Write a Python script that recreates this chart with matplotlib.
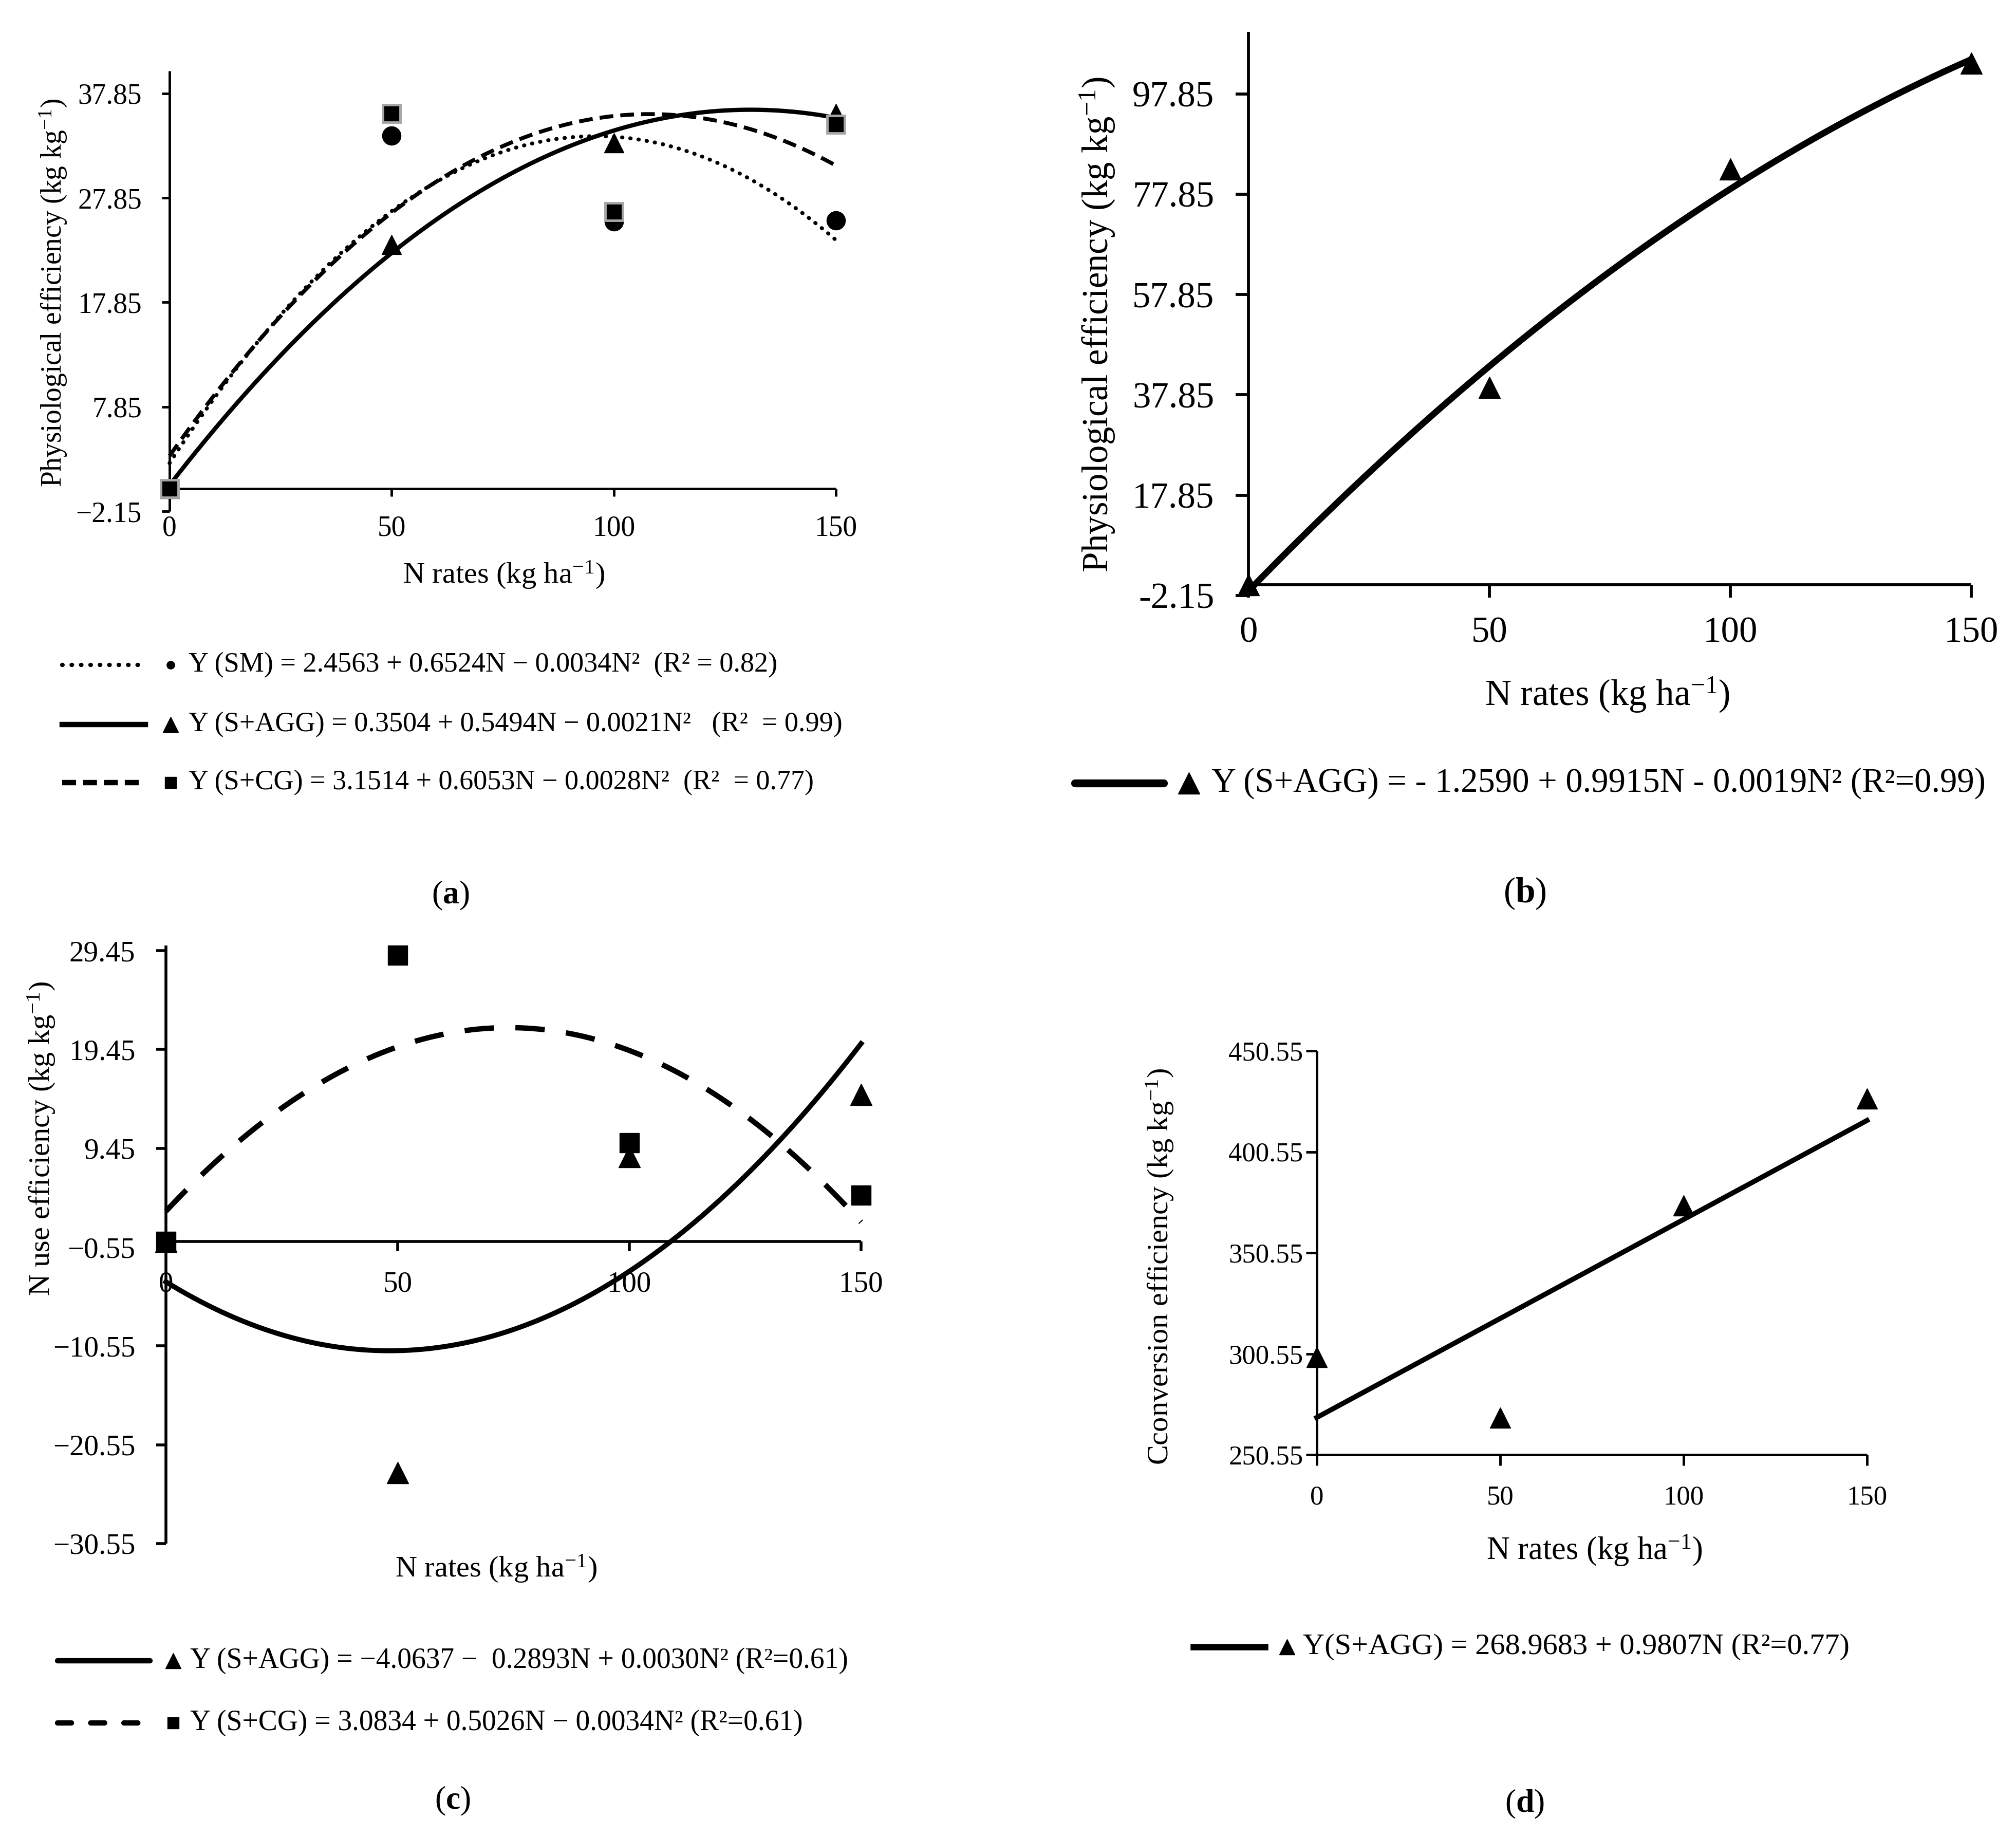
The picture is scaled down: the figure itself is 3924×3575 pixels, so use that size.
import numpy as np
import matplotlib
matplotlib.use('Agg')
import matplotlib.pyplot as plt
from matplotlib.lines import Line2D

# ---------------- data ----------------
n_rates = [0, 50, 100, 150]

# panel (a) physiological efficiency
a_sm = [0.0, 33.8, 25.6, 25.7]
a_agg = [0.0, 23.4, 33.1, 35.9]
a_cg = [0.0, 35.9, 26.5, 34.9]
a_sm_coef = [2.4563, 0.6524, -0.0034]
a_agg_coef = [0.3504, 0.5494, -0.0021]
a_cg_coef = [3.1514, 0.6053, -0.0028]
a_yticks = [-2.15, 7.85, 17.85, 27.85, 37.85]
a_yticklabels = ['\u22122.15', '7.85', '17.85', '27.85', '37.85']

# panel (b)
b_agg = [0.0, 39.3, 82.9, 104.0]
b_agg_coef = [-1.2590, 0.9915, -0.0019]
b_yticks = [-2.15, 17.85, 37.85, 57.85, 77.85, 97.85]
b_yticklabels = ['-2.15', '17.85', '37.85', '57.85', '77.85', '97.85']

# panel (c) N use efficiency
c_agg = [0.0, -23.4, 8.6, 14.9]
c_cg = [0.0, 29.0, 10.0, 4.7]
c_agg_coef = [-4.0637, -0.2893, 0.0030]
c_cg_coef = [3.0834, 0.5026, -0.0034]
c_yticks = [-30.55, -20.55, -10.55, -0.55, 9.45, 19.45, 29.45]
c_yticklabels = ['\u221230.55', '\u221220.55', '\u221210.55', '\u22120.55', '9.45', '19.45', '29.45']

# panel (d) conversion efficiency
d_agg = [298.9, 268.9, 373.9, 426.9]
d_agg_coef = [268.9683, 0.9807]
d_yticks = [250.55, 300.55, 350.55, 400.55, 450.55]
d_yticklabels = ['250.55', '300.55', '350.55', '400.55', '450.55']

xticks = [0, 50, 100, 150]
xticklabels = ['0', '50', '100', '150']

leg_a = ['Y (SM) = 2.4563 + 0.6524N \u2212 0.0034N\u00b2  (R\u00b2 = 0.82)',
         'Y (S+AGG) = 0.3504 + 0.5494N \u2212 0.0021N\u00b2   (R\u00b2  = 0.99)',
         'Y (S+CG) = 3.1514 + 0.6053N \u2212 0.0028N\u00b2  (R\u00b2  = 0.77)']
leg_b = 'Y (S+AGG) = - 1.2590 + 0.9915N - 0.0019N\u00b2 (R\u00b2=0.99)'
leg_c = ['Y (S+AGG) = \u22124.0637 \u2212  0.2893N + 0.0030N\u00b2 (R\u00b2=0.61)',
         'Y (S+CG) = 3.0834 + 0.5026N \u2212 0.0034N\u00b2 (R\u00b2=0.61)']
leg_d = 'Y(S+AGG) = 268.9683 + 0.9807N (R\u00b2=0.77)'

# ---------------- style ----------------
plt.rcParams.update({
    'font.family': ['Liberation Serif', 'DejaVu Serif'],
    'mathtext.fontset': 'custom',
    'mathtext.rm': 'Liberation Serif',
    'mathtext.it': 'Liberation Serif:italic',
    'mathtext.bf': 'Liberation Serif:bold',
})

W, H = 3924, 3575
fig = plt.figure(figsize=(W / 100, H / 100), dpi=100)


def fx(x):
    return x / W


def fy(y):
    return 1 - y / H


def axes_px(l, r, t, b):
    return fig.add_axes([fx(l), fy(b), (r - l) / W, (b - t) / H])


def style(ax, ylim, yticks, yticklabels, zero_spine, lw_axis, ticklen, fs, ypad, xpad):
    for s in ['top', 'right']:
        ax.spines[s].set_visible(False)
    for s in ['left', 'bottom']:
        ax.spines[s].set_linewidth(lw_axis)
        ax.spines[s].set_capstyle('butt')
    if zero_spine:
        ax.spines['bottom'].set_position(('data', 0))
    ax.set_xlim(0, 150)
    ax.set_ylim(*ylim)
    ax.set_xticks(xticks)
    ax.set_xticklabels(xticklabels)
    ax.set_yticks(yticks)
    ax.set_yticklabels(yticklabels)
    ax.tick_params(axis='both', direction='out', length=ticklen, width=lw_axis,
                   labelsize=fs, colors='black')
    ax.tick_params(axis='y', pad=ypad)
    ax.tick_params(axis='x', pad=xpad)
    ax.patch.set_visible(False)


def curve(coef):
    N = np.linspace(0, 150, 301)
    return N, np.polynomial.polynomial.polyval(N, coef)


def leg_line(x0, x1, y, **kw):
    fig.add_artist(Line2D([fx(x0), fx(x1)], [fy(y), fy(y)], transform=fig.transFigure, color='black', **kw))


def leg_marker(x, y, **kw):
    fig.add_artist(Line2D([fx(x)], [fy(y)], transform=fig.transFigure, linestyle='none', **kw))


SUP = r'$^{-1}$'

# ---------------- panel (a) ----------------
ax = axes_px(330, 1627, 138, 995)
style(ax, (-2.15, 40.0), a_yticks, a_yticklabels, True, 3.5, 11, 40, 28, 26)
N, y = curve(a_sm_coef)
ax.plot(N, y, color='black', lw=5.5, linestyle=(0, (0.1, 2.0)), dash_capstyle='round', clip_on=False)
N, y = curve(a_agg_coef)
ax.plot(N, y, color='black', lw=6, clip_on=False)
N, y = curve(a_cg_coef)
ax.plot(N, y, color='black', lw=5.5, linestyle=(0, (3.5, 1.8)), clip_on=False)
ax.plot(n_rates, a_sm, 'o', color='black', ms=26, clip_on=False, zorder=5)
ax.plot(n_rates, a_agg, '^', color='black', ms=28, clip_on=False, zorder=6)
ax.plot(n_rates, a_cg, 's', mfc='black', mec='#A6A6A6', mew=3.5, ms=25, clip_on=False, zorder=7)
fig.text(fx(104), fy(570), 'Physiological efficiency (kg kg' + SUP + ')', rotation=90,
         ha='center', va='center', fontsize=40)
fig.text(fx(981), fy(1119), 'N rates (kg ha' + SUP + ')', ha='center', va='center', fontsize=42)

leg_line(121, 283, 1294, lw=6, linestyle=(0, (0.1, 2.1)), dash_capstyle='round')
leg_marker(332, 1294, marker='o', color='black', ms=11)
leg_line(121, 283, 1410, lw=7.5)
leg_marker(332, 1410, marker='^', color='black', ms=22)
leg_line(121, 283, 1523, lw=7.5, linestyle=(0, (2.6, 1.3)))
leg_marker(332, 1523, marker='s', color='black', ms=16)
for txt, yy in zip(leg_a, [1294, 1410, 1523]):
    fig.text(fx(367), fy(yy), txt, ha='left', va='center', fontsize=39)
fig.text(fx(877), fy(1743), r'($\mathbf{a}$)', ha='center', va='center', fontsize=46)

# ---------------- panel (b) ----------------
ax = axes_px(2430, 3837, 62, 1159)
style(ax, (-2.15, 110.2), b_yticks, b_yticklabels, True, 4.2, 18, 51, 30, 26)
N, y = curve(b_agg_coef)
ax.plot(N, y, color='black', lw=9, clip_on=False)
ax.plot(n_rates, b_agg, '^', color='black', ms=30, clip_on=False, zorder=6)
fig.text(fx(2136), fy(631), 'Physiological efficiency (kg kg' + SUP + ')', rotation=90,
         ha='center', va='center', fontsize=51)
fig.text(fx(3128), fy(1352), 'N rates (kg ha' + SUP + ')', ha='center', va='center', fontsize=51)
leg_line(2092, 2265, 1524, lw=11, solid_capstyle='round')
leg_marker(2314, 1524, marker='^', color='black', ms=30)
fig.text(fx(2358), fy(1524), leg_b, ha='left', va='center', fontsize=48)
fig.text(fx(2968), fy(1739), r'($\mathbf{b}$)', ha='center', va='center', fontsize=50)

# ---------------- panel (c) ----------------
ax = axes_px(323, 1676, 1840, 3004)
style(ax, (-30.55, 29.97), c_yticks, c_yticklabels, True, 4.0, 14, 41, 29, 27)
N, y = curve(c_agg_coef)
ax.plot(N, y, color='black', lw=7, clip_on=False)
N, y = curve(c_cg_coef)
ax.plot(N, y, color='black', lw=7.5, linestyle=(0, (5.5, 4.0)), clip_on=False)
ax.plot(n_rates, c_agg, '^', color='black', ms=30, clip_on=False, zorder=6)
ax.plot(n_rates, c_cg, 's', color='black', ms=28, clip_on=False, zorder=7)
fig.text(fx(81), fy(2216), 'N use efficiency (kg kg' + SUP + ')', rotation=90,
         ha='center', va='center', fontsize=42)
fig.text(fx(966), fy(3053), 'N rates (kg ha' + SUP + ')', ha='center', va='center', fontsize=42)
leg_line(112, 292, 3232, lw=7.5, solid_capstyle='round')
leg_marker(337, 3232, marker='^', color='black', ms=22)
leg_line(112, 292, 3353, lw=7.5, linestyle=(0, (2.6, 3.6)), dash_capstyle='round')
leg_marker(337, 3353, marker='s', color='black', ms=16)
for txt, yy in zip(leg_c, [3232, 3353]):
    fig.text(fx(370), fy(yy), txt, ha='left', va='center', fontsize=40)
fig.text(fx(881), fy(3505), r'($\mathbf{c}$)', ha='center', va='center', fontsize=46)

# ---------------- panel (d) ----------------
ax = axes_px(2563, 3634, 2045, 2831)
style(ax, (250.55, 450.55), d_yticks, d_yticklabels, False, 3.5, 15, 38, 4, 28)
N, y = curve(d_agg_coef)
ax.plot(N, y, color='black', lw=7, clip_on=False)
ax.plot(n_rates, d_agg, '^', color='black', ms=29, clip_on=False, zorder=6)
fig.text(fx(2258), fy(2465), 'Cconversion efficiency (kg kg' + SUP + ')', rotation=90,
         ha='center', va='center', fontsize=42)
fig.text(fx(3103), fy(3017), 'N rates (kg ha' + SUP + ')', ha='center', va='center', fontsize=45)
leg_line(2323, 2462, 3205, lw=9)
leg_marker(2505, 3205, marker='^', color='black', ms=22)
fig.text(fx(2536), fy(3205), leg_d, ha='left', va='center', fontsize=42)
fig.text(fx(2968), fy(3511), r'($\mathbf{d}$)', ha='center', va='center', fontsize=46)

fig.savefig('out.png', dpi=100, facecolor='white')
